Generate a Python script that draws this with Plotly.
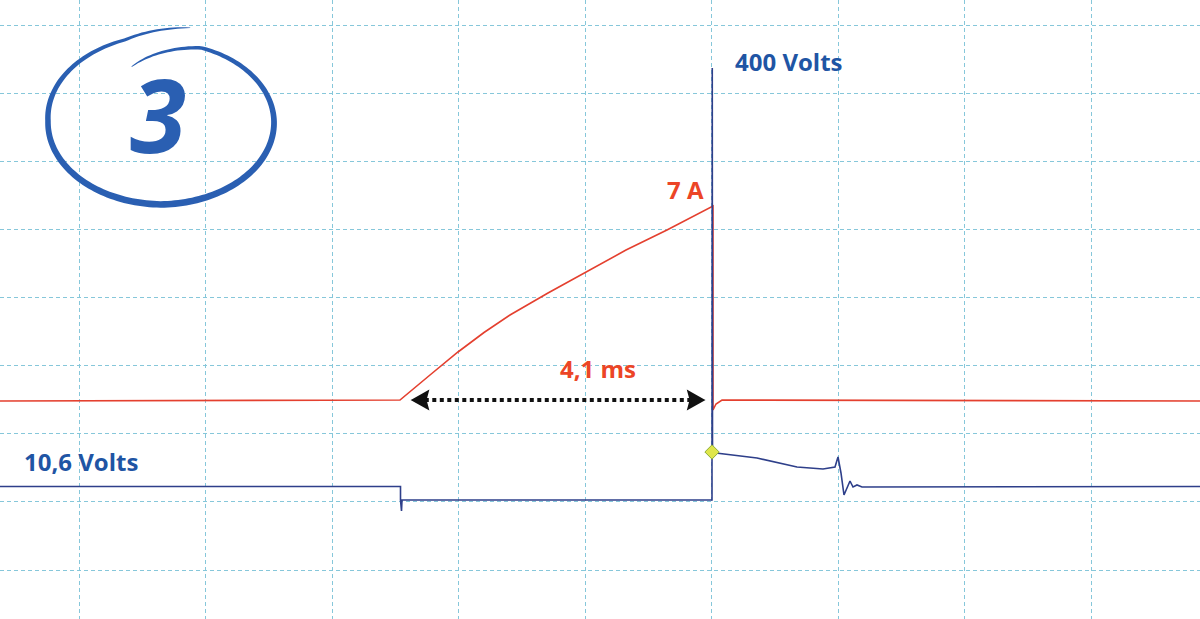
import numpy as np
import plotly.graph_objects as go

# ---------------- data (screen divisions; 0 = first grid line) ----------------
# Current channel (red)
current_t = [-0.6245, 2.5375, 2.7747, 2.9960, 3.2016, 3.4071, 3.7075, 4.0079,
             4.3241, 4.6482, 4.8300, 5.0119, 5.0119, 5.0356, 5.0830, 8.8617]
current_v = [2.4816, 2.4963, 2.8635, 3.2012, 3.4875, 3.7445, 4.0675, 4.3759,
             4.6980, 4.9927, 5.1689, 5.3451, 2.3495, 2.4376, 2.4963, 2.4816]

# Voltage channel (blue)
voltage_t = [-0.6245, 2.5415, 2.5415, 2.5494, 2.5534, 5.0040, 5.0040, 5.0060,
             5.0080, 5.0356, 5.3597, 5.6759, 5.8814, 5.9763, 6.0000, 6.0237,
             6.0474, 6.0949, 6.1186, 6.1502, 6.1897, 8.8617]
voltage_v = [1.2261, 1.2261, 1.0279, 0.8664, 1.0279, 1.0279, 1.3656, 7.3715,
             1.7621, 1.7181, 1.6446, 1.5125, 1.4831, 1.5125, 1.6593, 1.4244,
             1.1013, 1.3069, 1.2188, 1.2482, 1.2188, 1.2261]

# Trigger marker
marker_t = [5.004]
marker_v = [1.733]

labels = ["400 Volts", "7 A", "4,1 ms", "10,6 Volts"]
badge_text = "3"

# ---------------- figure ----------------
W, H = 1200, 619
X_RANGE = [-0.6245, 8.8617]
Y_RANGE = [-0.7195, 8.3700]

BLUE_TXT = "#1f55a4"
RED_TXT = "#ec4526"
RED_LINE = "#e4402f"
BLUE_LINE = "#2e3f8a"
GRID = "#86c7da"


def px(xp, yp):
    return xp / W, 1 - yp / H


fig = go.Figure()
fig.add_trace(go.Scatter(x=current_t, y=current_v, mode="lines",
                         line=dict(color=RED_LINE, width=1.6), hoverinfo="skip"))
fig.add_trace(go.Scatter(x=voltage_t, y=voltage_v, mode="lines",
                         line=dict(color=BLUE_LINE, width=1.6), hoverinfo="skip"))
fig.add_trace(go.Scatter(x=marker_t, y=marker_v, mode="markers",
                         marker=dict(symbol="diamond", size=11, color="#dfe64a",
                                     line=dict(color="#8fae3a", width=1)),
                         hoverinfo="skip"))

shapes = []
# dotted double arrow spanning the current ramp
ax0 = current_t[1] + 0.10
ax1 = current_t[11] - 0.075
ay = current_v[1] + 0.0
dx_head = 0.12
dy_head = 0.125
shapes.append(dict(type="line", xref="x", yref="y", x0=ax0 + dx_head * 0.8, x1=ax1 - dx_head * 0.8,
                   y0=ay, y1=ay, line=dict(color="#111111", width=4, dash="4px,3.5px")))
shapes.append(dict(type="path", xref="x", yref="y",
                   path=f"M {ax0},{ay} L {ax0 + dx_head},{ay + dy_head} L {ax0 + dx_head * 0.85},{ay} "
                        f"L {ax0 + dx_head},{ay - dy_head} Z",
                   fillcolor="#111111", line=dict(color="#111111", width=2)))
shapes.append(dict(type="path", xref="x", yref="y",
                   path=f"M {ax1},{ay} L {ax1 - dx_head},{ay + dy_head} L {ax1 - dx_head * 0.85},{ay} "
                        f"L {ax1 - dx_head},{ay - dy_head} Z",
                   fillcolor="#111111", line=dict(color="#111111", width=2)))

# hand-drawn ellipse around the badge number (decoration, in pixels)
cx, cy, rx, ry = 161.0, 121.0, 113.0, 81.0
th0, th1 = -1.94, -1.35 + 2 * np.pi
knots_th = [-1.94, -1.2, 0.0, 1.57, 3.14, 4.4, th1]
knots_s = [0.72, 0.97, 1.0, 1.03, 1.0, 1.05, 1.18]
th = np.linspace(th0, th1, 220)
s = np.interp(th, knots_th, knots_s)
u = (th - th0) / (th1 - th0)
w = 0.6 + 6.0 * np.sin(np.pi * u) ** 0.6
outer = [(cx + (rx * si + wi / 2) * np.cos(t), cy + (ry * si + wi / 2) * np.sin(t))
         for t, si, wi in zip(th, s, w)]
inner = [(cx + (rx * si - wi / 2) * np.cos(t), cy + (ry * si - wi / 2) * np.sin(t))
         for t, si, wi in zip(th, s, w)]
pts = outer + inner[::-1]
path = "M " + " L ".join(f"{px(a, b)[0]:.5f},{px(a, b)[1]:.5f}" for a, b in pts) + " Z"
shapes.append(dict(type="path", xref="paper", yref="paper", path=path,
                   fillcolor="#2a5fb2", line=dict(width=0)))

annotations = []


def label(text, xp, yp, color, size=24):
    x, y = px(xp, yp)
    annotations.append(dict(text=f"<b>{text}</b>", x=x, y=y, xref="paper", yref="paper",
                            xanchor="center", yanchor="middle", showarrow=False,
                            font=dict(family="Open Sans", size=size, color=color, weight=800)))


label(labels[0], 789, 62, BLUE_TXT)
label(labels[1], 685, 190, RED_TXT)
label(labels[2], 598, 368, RED_TXT)
label(labels[3], 81, 461, BLUE_TXT)

bx, by = px(158, 113)
annotations.append(dict(text=f"<b>{badge_text}</b>", x=bx, y=by, xref="paper", yref="paper",
                        xanchor="center", yanchor="middle", showarrow=False,
                        font=dict(family="Open Sans", size=102, color="#2a5fb2", weight=800,
                                  style="italic")))

fig.update_layout(
    width=W, height=H,
    margin=dict(l=0, r=0, t=0, b=0),
    paper_bgcolor="white", plot_bgcolor="white",
    showlegend=False,
    shapes=shapes, annotations=annotations,
    xaxis=dict(range=X_RANGE, tick0=0, dtick=1, showgrid=True, gridcolor=GRID,
               griddash="4px,3px", gridwidth=1, showticklabels=False, zeroline=False,
               showline=False, ticks="", fixedrange=True),
    yaxis=dict(range=Y_RANGE, tick0=0, dtick=1, showgrid=True, gridcolor=GRID,
               griddash="4px,3px", gridwidth=1, showticklabels=False, zeroline=False,
               showline=False, ticks="", fixedrange=True),
)

fig.write_html("out.html", config=dict(displayModeBar=False),
               post_script="document.body.style.margin='0';document.body.style.overflow='hidden';")
